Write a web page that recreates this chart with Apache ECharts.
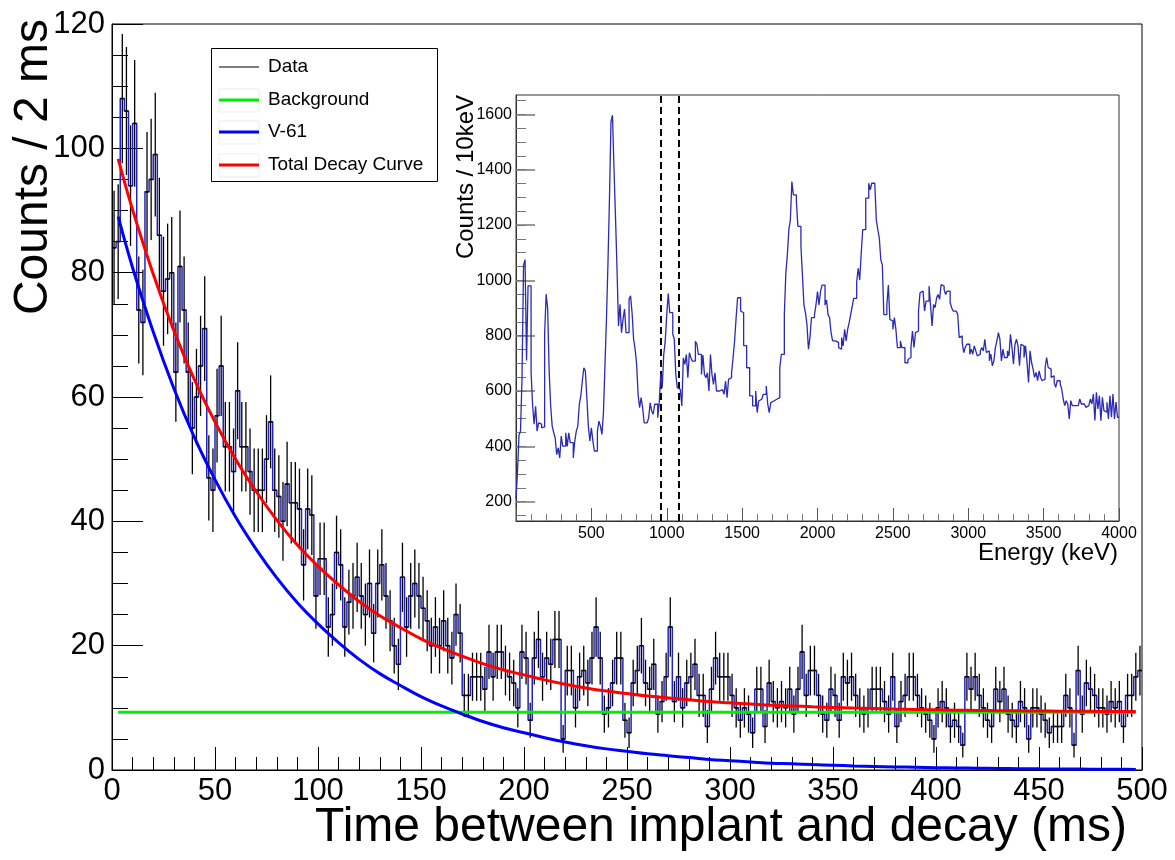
<!DOCTYPE html>
<html>
<head>
<meta charset="utf-8">
<title>V-61 decay curve</title>
<script src="https://cdn.jsdelivr.net/npm/echarts@6/dist/echarts.min.js"></script>
<style>
  html, body { margin: 0; padding: 0; background: #fff; }
  #chart { width: 1175px; height: 860px; }
</style>
</head>
<body>
<div id="chart"></div>
<script>
// Decay-time histogram: counts per 2 ms bin, 0-500 ms
const decayBinWidth = 2;
const decayCounts = [
  84, 85, 108, 106, 94, 104, 74, 72, 93, 95,
  99, 86, 77, 79, 80, 64, 81, 74, 64, 55,
  60, 65, 71, 47, 45, 57, 65, 52, 52, 48,
  61, 52, 52, 48, 45, 45, 45, 50, 56, 45,
  44, 40, 46, 43, 43, 42, 33, 42, 41, 28,
  34, 34, 23, 25, 35, 33, 23, 27, 28, 31,
  28, 25, 30, 22, 30, 33, 28, 24, 20, 17,
  31, 23, 28, 30, 28, 26, 24, 20, 23, 20,
  24, 20, 18, 25, 22, 12, 12, 15, 15, 15,
  13, 19, 15, 19, 19, 16, 15, 14, 10, 19,
  18, 8, 18, 21, 15, 18, 17, 21, 21, 5,
  16, 16, 10, 15, 16, 14, 18, 23, 18, 9,
  10, 14, 18, 18, 8, 6, 14, 16, 20, 14,
  13, 17, 9, 11, 15, 23, 11, 15, 10, 14,
  15, 17, 12, 12, 7, 13, 18, 15, 15, 15,
  12, 10, 8, 10, 9, 6, 13, 13, 7, 14,
  11, 10, 11, 10, 13, 9, 13, 19, 12, 16,
  16, 12, 9, 8, 13, 12, 8, 15, 14, 15,
  12, 10, 9, 10, 13, 13, 13, 11, 9, 15,
  7, 11, 12, 15, 15, 12, 10, 9, 8, 5,
  10, 11, 10, 7, 8, 7, 4, 15, 13, 15,
  12, 10, 8, 7, 13, 11, 13, 9, 8, 7,
  11, 10, 5, 10, 10, 9, 8, 6, 7, 7,
  7, 12, 10, 4, 16, 9, 14, 13, 12, 10,
  10, 9, 11, 10, 11, 7, 12, 12, 15, 16
];

// Fitted curves, sampled along the fit range (ms)
const fitTimes = [
  3, 10, 20, 30, 40, 50, 60, 70, 80, 90,
  100, 110, 120, 130, 140, 150, 160, 170, 180, 190,
  200, 210, 220, 230, 240, 250, 260, 270, 280, 290,
  300, 310, 320, 330, 340, 350, 360, 370, 380, 390,
  400, 410, 420, 430, 440, 450, 460, 470, 480, 490, 497
];
const v61Fit = [
  89.0, 80.8, 70.5, 61.4, 53.5, 46.7, 40.7, 35.5, 30.9, 26.9,
  23.5, 20.5, 17.8, 15.5, 13.6, 11.8, 10.3, 9.0, 7.8, 6.8,
  6.0, 5.2, 4.5, 3.9, 3.4, 3.0, 2.6, 2.3, 2.0, 1.7,
  1.5, 1.3, 1.1, 1.0, 0.87, 0.76, 0.66, 0.58, 0.50, 0.44,
  0.38, 0.33, 0.29, 0.25, 0.22, 0.19, 0.17, 0.15, 0.13, 0.11, 0.10
];
const totalFit = [
  98.3, 90.1, 79.8, 70.7, 62.8, 56.0, 50.0, 44.8, 40.2, 36.2,
  32.8, 29.8, 27.1, 24.8, 22.9, 21.1, 19.6, 18.3, 17.1, 16.1,
  15.3, 14.5, 13.8, 13.2, 12.7, 12.3, 11.9, 11.6, 11.3, 11.0,
  10.8, 10.6, 10.4, 10.3, 10.17, 10.06, 9.96, 9.88, 9.80, 9.74,
  9.68, 9.63, 9.59, 9.55, 9.52, 9.49, 9.47, 9.45, 9.43, 9.41, 9.40
];
const backgroundTimes = [3, 497];
const backgroundLevel = [9.3, 9.3];

// Gamma energy spectrum in coincidence: counts per 10 keV bin, 0-4000 keV
const energyBinWidth = 10;
const energyCounts = [
  210, 310, 440, 455, 650, 1055, 1075, 710, 980, 980,
  670, 550, 480, 545, 455, 485, 480, 467, 470, 808,
  950, 898, 670, 546, 473, 450, 430, 370, 394, 358,
  437, 401, 401, 449, 400, 449, 413, 413, 358, 419,
  455, 473, 552, 582, 636, 684, 672, 576, 473, 419,
  467, 419, 383, 383, 455, 491, 473, 443, 521, 690,
  858, 1061, 1295, 1573, 1597, 1405, 1230, 1043, 835, 913,
  811, 860, 896, 811, 811, 932, 944, 883, 788, 752,
  698, 588, 540, 576, 540, 485, 485, 485, 503, 557,
  528, 516, 552, 552, 503, 557, 660, 612, 732, 780,
  876, 952, 883, 883, 805, 788, 660, 612, 606, 606,
  546, 720, 696, 732, 648, 738, 720, 708, 708, 780,
  769, 732, 732, 660, 730, 660, 648, 666, 600, 732,
  660, 624, 666, 600, 600, 600, 605, 605, 588, 636,
  576, 642, 648, 666, 720, 780, 864, 937, 937, 889,
  883, 764, 764, 684, 684, 582, 582, 546, 546, 600,
  522, 564, 570, 570, 588, 588, 618, 552, 522, 558,
  564, 570, 570, 576, 576, 684, 732, 732, 876, 1026,
  1092, 1183, 1219, 1357, 1309, 1309, 1285, 1195, 1195, 1123,
  1020, 911, 883, 841, 751, 793, 865, 865, 876, 911,
  959, 911, 959, 983, 983, 911, 929, 876, 865, 811,
  781, 781, 775, 775, 757, 751, 793, 763, 823, 781,
  823, 847, 876, 905, 935, 935, 995, 1043, 1001, 1098,
  1183, 1183, 1297, 1297, 1351, 1327, 1351, 1351, 1345, 1219,
  1183, 1153, 1074, 1056, 876, 876, 911, 983, 859, 853,
  823, 865, 823, 757, 757, 781, 757, 757, 702, 702,
  714, 721, 757, 817, 757, 811, 817, 889, 955, 961,
  961, 889, 925, 925, 979, 907, 835, 913, 901, 937,
  949, 931, 985, 979, 967, 949, 961, 961, 920, 901,
  889, 889, 883, 877, 793, 799, 775, 739, 757, 769,
  769, 733, 751, 733, 763, 745, 727, 733, 745, 757,
  745, 787, 739, 745, 709, 733, 691, 709, 757, 781,
  811, 787, 709, 751, 721, 721, 745, 727, 805, 757,
  697, 769, 787, 763, 691, 769, 763, 721, 763, 703,
  631, 745, 703, 679, 649, 667, 637, 673, 649, 637,
  643, 685, 721, 685, 679, 649, 655, 631, 613, 637,
  637, 625, 607, 571, 547, 565, 553, 499, 565, 547,
  547, 541, 547, 541, 571, 553, 553, 547, 541, 547,
  541, 571, 553, 589, 493, 595, 535, 583, 493, 577,
  529, 523, 559, 499, 583, 505, 589, 499, 560, 505
];
// Energy gate used for the decay curve (keV)
const gateEnergies = [962, 1081];

// Inset y-axis tick values
const energyAxisLabels = [200, 400, 600, 800, 1000, 1200, 1400, 1600];
const energyAxisMinorTicks = [
  150, 200, 250, 300, 350, 400, 450, 500, 550, 600, 650, 700, 750, 800,
  850, 900, 950, 1000, 1050, 1100, 1150, 1200, 1250, 1300, 1350, 1400,
  1450, 1500, 1550, 1600, 1650
];

// Legend entries
const legendNames = ['Data', 'Background', 'V-61', 'Total Decay Curve'];
const legendColors = ['#000000', '#00ee00', '#0000ff', '#ff0000'];

const FONT = '"Liberation Sans", Arial, Helvetica, sans-serif';
const plainNumber = (v) => String(v);

// Step outline points at bin edges
const decayEdges = decayCounts.map((n, i) => [i * decayBinWidth, n]);
decayEdges.push([decayCounts.length * decayBinWidth, decayCounts[decayCounts.length - 1]]);
const decayCenters = decayCounts.map((n, i) => [(i + 0.5) * decayBinWidth, n]);

const energyEdges = energyCounts.map((n, i) => [i * energyBinWidth, n]);
energyEdges.push([energyCounts.length * energyBinWidth, energyCounts[energyCounts.length - 1]]);

// Horizontal bin bar plus Poisson error bar for each bin
function renderErrorBin(params, api) {
  const t = api.value(0);
  const n = api.value(1);
  const half = decayBinWidth / 2;
  const err = Math.sqrt(n);
  const l = api.coord([t - half, n]);
  const r = api.coord([t + half, n]);
  const lo = api.coord([t, n - err]);
  const hi = api.coord([t, n + err]);
  const style = { stroke: '#000', lineWidth: 1.3 };
  return {
    type: 'group',
    children: [
      { type: 'line', shape: { x1: l[0], y1: l[1], x2: r[0], y2: r[1] }, style: style },
      { type: 'line', shape: { x1: lo[0], y1: lo[1], x2: hi[0], y2: hi[1] }, style: style }
    ]
  };
}

const fitLine = (vals) => fitTimes.map((t, i) => [t, vals[i]]);

// Legend box drawn as graphic elements
const legendRows = [67, 100, 132, 165];
const legendGraphics = [{
  type: 'rect', left: 211, top: 48, z: 20,
  shape: { width: 226, height: 133 },
  style: { fill: '#fff', stroke: '#000', lineWidth: 1 }
}];
legendNames.forEach((name, i) => {
  const y = legendRows[i];
  if (i > 0) {
    legendGraphics.push({
      type: 'rect', x: 219, y: y - 11, z: 21,
      shape: { width: 40, height: 23 },
      style: { fill: 'none', stroke: '#ececec', lineWidth: 1 }
    });
  }
  legendGraphics.push({
    type: 'line', z: 22,
    shape: { x1: 219, y1: y, x2: 259, y2: y },
    style: { stroke: legendColors[i], lineWidth: i === 0 ? 1 : 3 }
  });
  legendGraphics.push({
    type: 'text', x: 268, y: y, z: 22,
    style: { text: name, fill: '#000', font: '19px ' + FONT, textAlign: 'left', textVerticalAlign: 'middle' }
  });
});

const titleGraphics = [
  {
    type: 'text', x: 1127, y: 828, z: 10,
    style: { text: 'Time between implant and decay (ms)', fill: '#000', font: '48px ' + FONT, textAlign: 'right', textVerticalAlign: 'middle' }
  },
  {
    type: 'text', x: 34, y: 19, rotation: Math.PI / 2, z: 10,
    style: { text: 'Counts / 2 ms', fill: '#000', font: '48px ' + FONT, textAlign: 'right', textVerticalAlign: 'middle' }
  },
  {
    type: 'text', x: 1118, y: 553, z: 10,
    style: { text: 'Energy (keV)', fill: '#000', font: '24px ' + FONT, textAlign: 'right', textVerticalAlign: 'middle' }
  },
  {
    type: 'text', x: 466, y: 95, rotation: Math.PI / 2, z: 10,
    style: { text: 'Counts / 10keV', fill: '#000', font: '24px ' + FONT, textAlign: 'right', textVerticalAlign: 'middle' }
  }
];

const chart = echarts.init(document.getElementById('chart'), null, { renderer: 'canvas', width: 1175, height: 860 });

const option = {
  animation: false,
  backgroundColor: '#fff',
  textStyle: { fontFamily: FONT },
  grid: [
    { left: 112, top: 24, width: 1030, height: 746, show: true, borderColor: '#000', borderWidth: 1, backgroundColor: 'transparent' },
    { left: 516, top: 95, width: 603, height: 426, show: true, borderColor: '#333', borderWidth: 1, backgroundColor: '#fff' }
  ],
  xAxis: [
    {
      gridIndex: 0, type: 'value', min: 0, max: 500, interval: 50,
      axisLine: { show: true, onZero: false, lineStyle: { color: '#000', width: 1 } },
      axisTick: { show: true, inside: true, length: 23, lineStyle: { color: '#000', width: 1 } },
      minorTick: { show: true, splitNumber: 5, length: 13, lineStyle: { color: '#000', width: 1 } },
      axisLabel: { color: '#000', fontSize: 31, margin: 6, fontFamily: FONT, formatter: plainNumber },
      splitLine: { show: false }
    },
    {
      gridIndex: 1, type: 'value', min: 0, max: 4000, interval: 500,
      axisLine: { show: true, onZero: false, lineStyle: { color: '#333', width: 1 } },
      axisTick: { show: true, inside: true, length: 13, lineStyle: { color: '#555', width: 1 } },
      minorTick: { show: true, splitNumber: 5, length: 7, lineStyle: { color: '#777', width: 1 } },
      axisLabel: { color: '#000', fontSize: 16, margin: 5, showMinLabel: false, fontFamily: FONT, formatter: plainNumber },
      splitLine: { show: false }
    }
  ],
  yAxis: [
    {
      gridIndex: 0, type: 'value', min: 0, max: 120, interval: 20,
      axisLine: { show: true, onZero: false, lineStyle: { color: '#000', width: 1 } },
      axisTick: { show: true, inside: true, length: 31, lineStyle: { color: '#000', width: 1 } },
      minorTick: { show: true, splitNumber: 4, length: 16, lineStyle: { color: '#000', width: 1 } },
      axisLabel: { color: '#000', fontSize: 31, margin: 7, fontFamily: FONT, formatter: plainNumber },
      splitLine: { show: false }
    },
    {
      gridIndex: 1, type: 'value', min: 130, max: 1670, position: 'left',
      axisLine: { show: true, onZero: false, lineStyle: { color: '#333', width: 1 } },
      axisTick: { show: true, inside: true, length: 19, customValues: energyAxisLabels, lineStyle: { color: '#777', width: 1.5 } },
      axisLabel: { color: '#000', fontSize: 16, margin: 4, customValues: energyAxisLabels, fontFamily: FONT, formatter: plainNumber },
      splitLine: { show: false }
    },
    {
      gridIndex: 1, type: 'value', min: 130, max: 1670, position: 'left',
      axisLine: { show: false },
      axisTick: { show: true, inside: true, length: 10, customValues: energyAxisMinorTicks, lineStyle: { color: '#777', width: 1 } },
      axisLabel: { show: false },
      splitLine: { show: false }
    }
  ],
  series: [
    {
      name: 'Data', type: 'line', xAxisIndex: 0, yAxisIndex: 0,
      data: decayEdges, step: 'end', showSymbol: false, silent: true, z: 2,
      lineStyle: { color: '#2222c4', width: 1.5 }
    },
    {
      name: 'Data errors', type: 'custom', xAxisIndex: 0, yAxisIndex: 0,
      data: decayCenters, renderItem: renderErrorBin, clip: true, silent: true, z: 3
    },
    {
      name: 'Background', type: 'line', xAxisIndex: 0, yAxisIndex: 0,
      data: backgroundTimes.map((t, i) => [t, backgroundLevel[i]]),
      showSymbol: false, silent: true, z: 5,
      lineStyle: { color: '#00ee00', width: 3 }
    },
    {
      name: 'V-61', type: 'line', xAxisIndex: 0, yAxisIndex: 0,
      data: fitLine(v61Fit), smooth: 0.4, showSymbol: false, silent: true, z: 5,
      lineStyle: { color: '#0000ff', width: 3 }
    },
    {
      name: 'Total Decay Curve', type: 'line', xAxisIndex: 0, yAxisIndex: 0,
      data: fitLine(totalFit), smooth: 0.4, showSymbol: false, silent: true, z: 6,
      lineStyle: { color: '#ff0000', width: 3 }
    },
    {
      name: 'Energy', type: 'line', xAxisIndex: 1, yAxisIndex: 1,
      data: energyEdges, step: 'end', showSymbol: false, silent: true, z: 8,
      lineStyle: { color: '#2a2ab4', width: 1.3 },
      markLine: {
        silent: true, symbol: ['none', 'none'], label: { show: false },
        lineStyle: { color: '#000', type: [7, 4], width: 2 },
        data: gateEnergies.map(e => ({ xAxis: e }))
      }
    }
  ],
  graphic: legendGraphics.concat(titleGraphics)
};

chart.setOption(option);
</script>
</body>
</html>
